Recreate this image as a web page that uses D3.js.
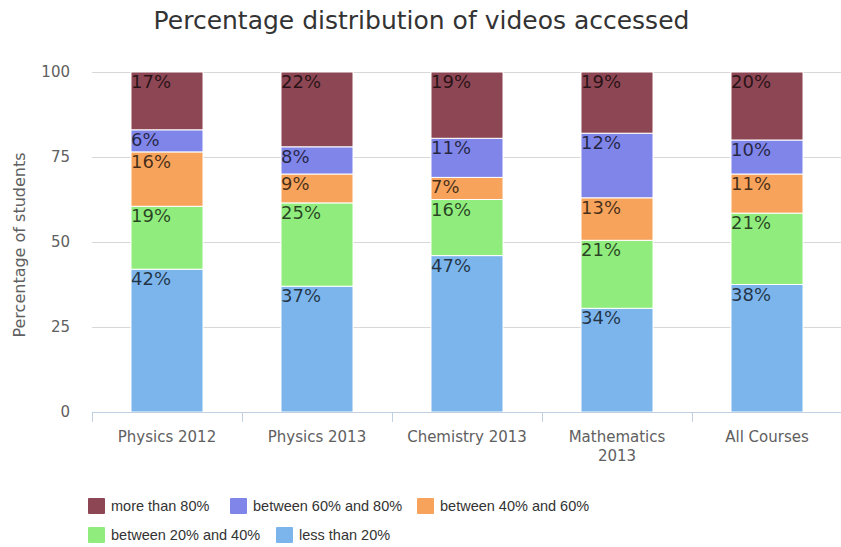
<!DOCTYPE html>
<html>
<head>
    <meta charset="utf-8">
    <script src="https://cdnjs.cloudflare.com/ajax/libs/d3/7.8.5/d3.min.js"></script>
    <style>
        body { margin: 0; background: #fff; }
        svg { display: block; }
        text { font-family: "DejaVu Sans", Verdana, sans-serif; }
    </style>
</head>
<body>
<div id="chart"></div>
<script>
    // Chart data
    const categories = ["Physics 2012", "Physics 2013", "Chemistry 2013", "Mathematics 2013", "All Courses"];
    const tickLines = [["Physics 2012"], ["Physics 2013"], ["Chemistry 2013"], ["Mathematics", "2013"], ["All Courses"]];
    const seriesNames = ["less than 20%", "between 20% and 40%", "between 40% and 60%", "between 60% and 80%", "more than 80%"];
    const seriesColors = ["#7cb5ec", "#90ed7d", "#f7a35c", "#8085e9", "#8d4653"];

    // segment heights
    const lessThan20 = [42, 37, 46, 30.5, 37.5];
    const from20to40 = [18.5, 24.5, 16.5, 20, 21];
    const from40to60 = [16, 8.5, 6.5, 12.5, 11.5];
    const from60to80 = [6.5, 8, 11.5, 19, 10];
    const moreThan80 = [17, 22, 19.5, 18, 20];

    // labels printed on the segments
    const lessThan20Labels = ["42%", "37%", "47%", "34%", "38%"];
    const from20to40Labels = ["19%", "25%", "16%", "21%", "21%"];
    const from40to60Labels = ["16%", "9%", "7%", "13%", "11%"];
    const from60to80Labels = ["6%", "8%", "11%", "12%", "10%"];
    const moreThan80Labels = ["17%", "22%", "19%", "19%", "20%"];

    const yTicks = [0, 25, 50, 75, 100];
    const legendOrder = [4, 3, 2, 1, 0];

    const seriesValues = [lessThan20, from20to40, from40to60, from60to80, moreThan80];
    const seriesLabels = [lessThan20Labels, from20to40Labels, from40to60Labels, from60to80Labels, moreThan80Labels];

    const width = 841, height = 547;
    const plotLeft = 92, plotRight = 842, plotTop = 72, plotBottom = 412;

    const svg = d3.select("#chart").append("svg")
        .attr("width", width)
        .attr("height", height);

    // table for d3.stack
    const table = categories.map((c, i) => {
        const row = { category: c };
        seriesNames.forEach((s, j) => row[s] = seriesValues[j][i]);
        return row;
    });
    const stacked = d3.stack().keys(seriesNames)(table);

    const x = d3.scaleBand().domain(categories).range([plotLeft, plotRight]).padding(0);
    const y = d3.scaleLinear().domain([0, 100]).range([plotBottom, plotTop]);
    const barW = x.bandwidth() * 0.48;

    // title
    svg.append("text")
        .attr("x", width / 2 + 1).attr("y", 29)
        .attr("text-anchor", "middle")
        .attr("fill", "#333")
        .style("font-size", "25px")
        .text("Percentage distribution of videos accessed");

    // gridlines
    svg.append("g").selectAll("line")
        .data(yTicks.filter(t => t > 0))
        .join("line")
        .attr("x1", plotLeft).attr("x2", plotRight)
        .attr("y1", d => y(d) + 0.5).attr("y2", d => y(d) + 0.5)
        .attr("stroke", "#d8d8d8");

    // y tick labels
    svg.append("g").selectAll("text")
        .data(yTicks)
        .join("text")
        .attr("x", 70).attr("y", d => y(d) + 5)
        .attr("text-anchor", "end")
        .attr("fill", "#606060")
        .style("font-size", "15px")
        .text(d => d);

    svg.append("text")
        .attr("transform", `translate(25,${(plotTop + plotBottom) / 2 + 3}) rotate(-90)`)
        .attr("text-anchor", "middle")
        .attr("fill", "#606060")
        .style("font-size", "16px")
        .text("Percentage of students");

    // bars
    const layers = svg.append("g").selectAll("g")
        .data(stacked)
        .join("g")
        .attr("fill", (d, i) => seriesColors[i]);

    layers.selectAll("rect")
        .data(d => d)
        .join("rect")
        .attr("x", d => x(d.data.category) + (x.bandwidth() - barW) / 2)
        .attr("y", d => y(d[1]))
        .attr("width", barW)
        .attr("height", d => y(d[0]) - y(d[1]))
        .attr("stroke", "#fff")
        .attr("stroke-width", 1);

    // segment labels
    layers.selectAll("text")
        .data((d, i) => d.map((p, k) => ({ p, label: seriesLabels[i][k] })))
        .join("text")
        .attr("x", d => x(d.p.data.category) + (x.bandwidth() - barW) / 2)
        .attr("y", d => y(d.p[1]) + 16)
        .attr("fill", "#000")
        .attr("fill-opacity", 0.72)
        .style("font-size", "18px")
        .text(d => d.label);

    // x axis
    svg.append("line")
        .attr("x1", plotLeft).attr("x2", plotRight)
        .attr("y1", plotBottom + 0.5).attr("y2", plotBottom + 0.5)
        .attr("stroke", "#c0d0e0");
    svg.append("g").selectAll("line")
        .data(categories)
        .join("line")
        .attr("x1", d => x(d) + 0.5).attr("x2", d => x(d) + 0.5)
        .attr("y1", plotBottom).attr("y2", plotBottom + 10)
        .attr("stroke", "#c0d0e0");

    const xl = svg.append("g").selectAll("text")
        .data(categories)
        .join("text")
        .attr("x", d => x(d) + x.bandwidth() / 2)
        .attr("y", 442)
        .attr("text-anchor", "middle")
        .attr("fill", "#606060")
        .style("font-size", "15px");
    xl.selectAll("tspan")
        .data((d, i) => tickLines[i])
        .join("tspan")
        .attr("x", function() { return this.parentNode.getAttribute("x"); })
        .attr("dy", (d, i) => i === 0 ? 0 : 19)
        .text(d => d);

    // legend
    const legendPos = [[88, 506], [230, 506], [417, 506], [88, 535], [276, 535]];
    const legend = svg.append("g").selectAll("g")
        .data(legendOrder)
        .join("g")
        .attr("transform", (d, i) => `translate(${legendPos[i][0]},${legendPos[i][1]})`);
    legend.append("rect")
        .attr("x", 0).attr("y", -8)
        .attr("width", 17).attr("height", 16)
        .attr("rx", 1)
        .attr("fill", d => seriesColors[d]);
    legend.append("text")
        .attr("x", 23).attr("y", 5)
        .attr("fill", "#333")
        .style("font-family", "'Liberation Sans', Arial, sans-serif")
        .style("font-size", "14.5px")
        .text(d => seriesNames[d]);
</script>
</body>
</html>
